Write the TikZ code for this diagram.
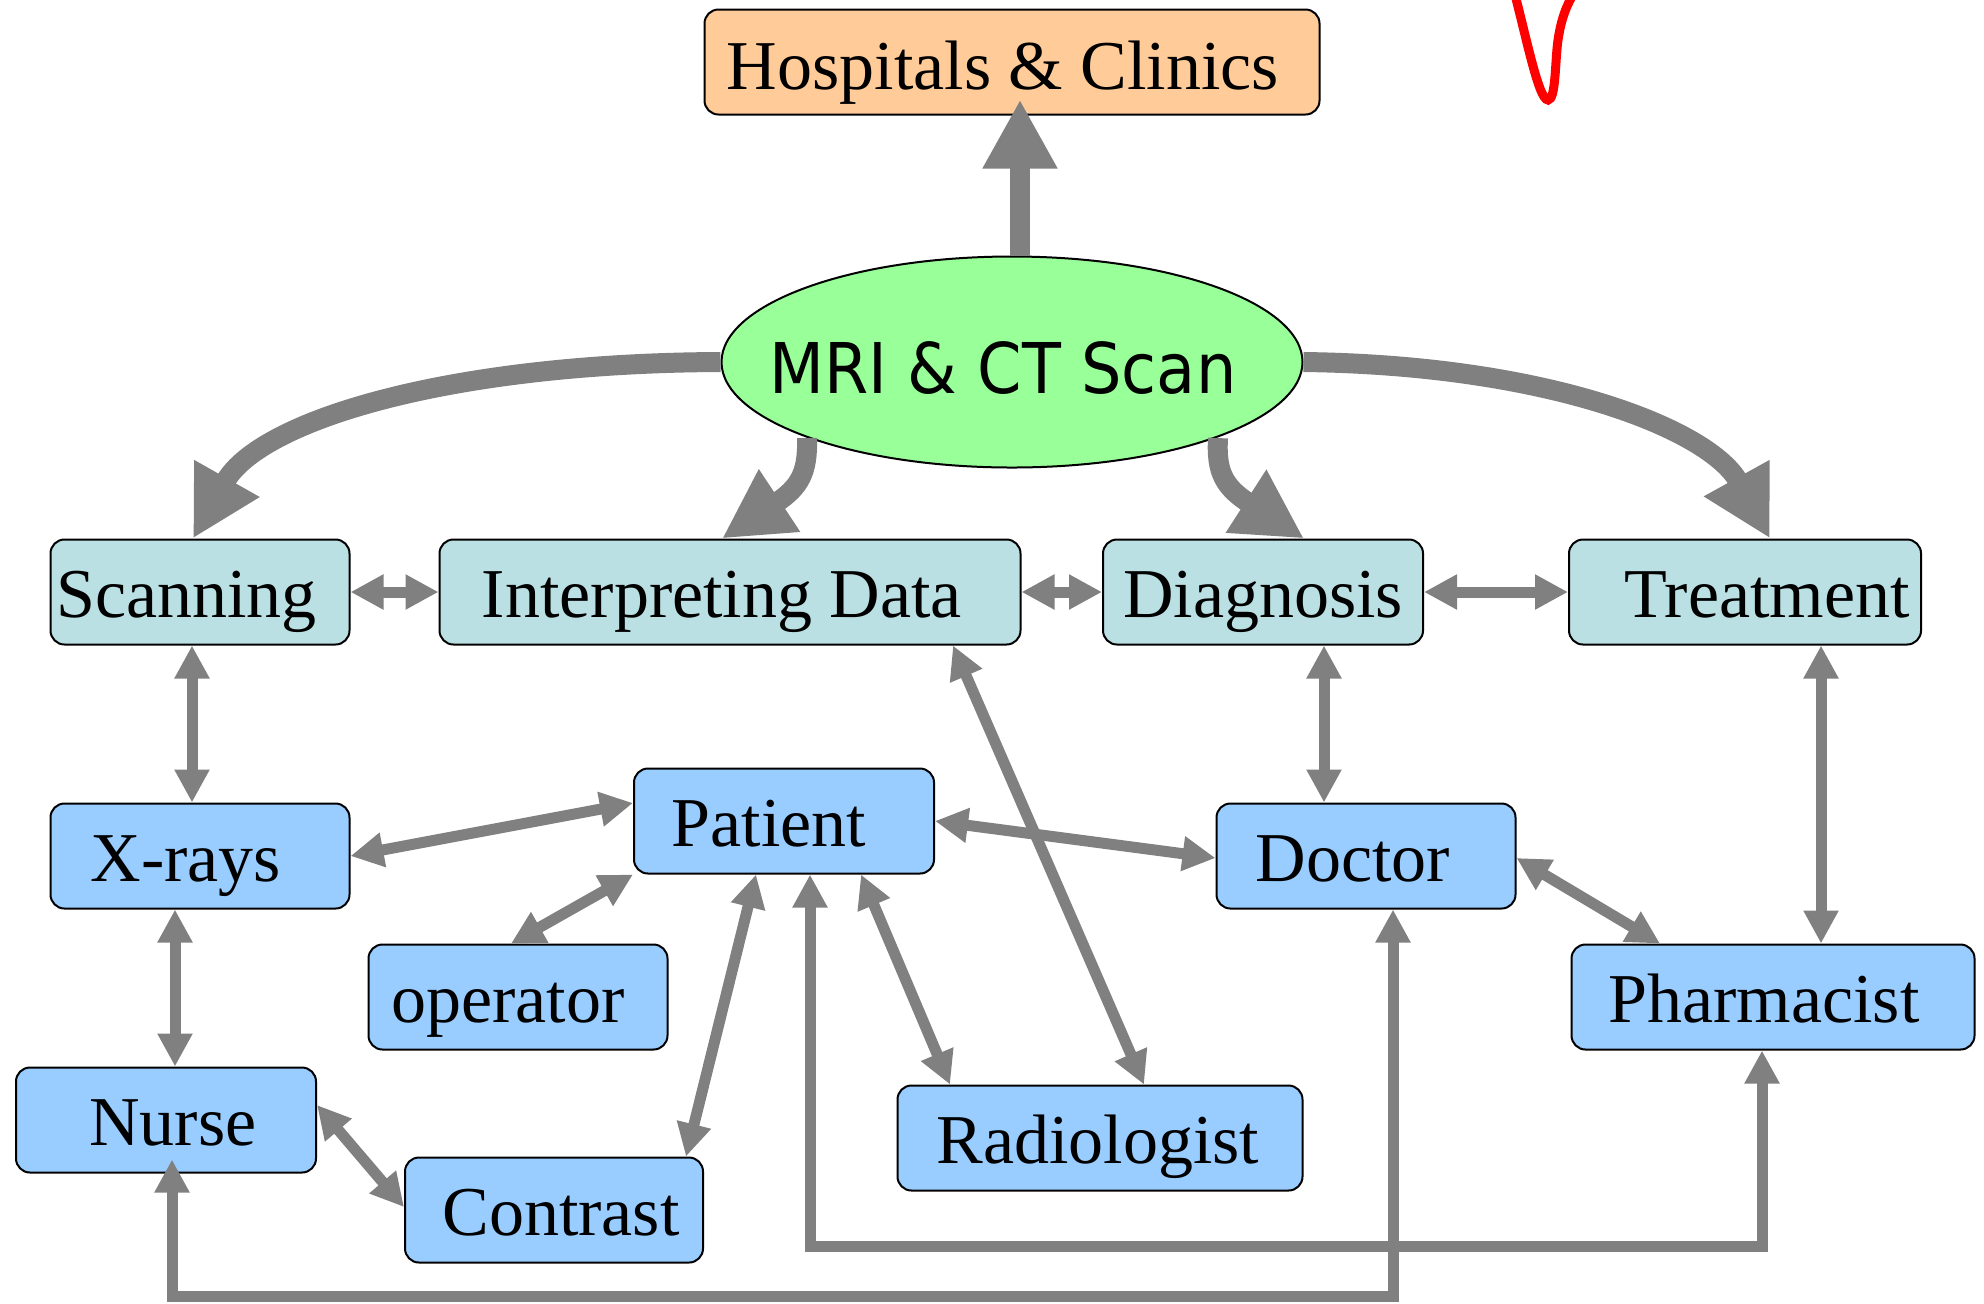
\documentclass[tikz,border=0pt]{standalone}
\usepackage{fontspec}
\setmainfont{Liberation Serif}
\newfontfamily\mrifont[FakeStretch=0.91]{DejaVu Sans}
\usetikzlibrary{shapes.geometric,arrows.meta,calc}
\definecolor{tealfill}{RGB}{187,224,227}
\definecolor{bluefill}{RGB}{153,204,255}
\definecolor{orangefill}{RGB}{255,204,153}
\definecolor{greenfill}{RGB}{153,255,153}
\definecolor{arrowgray}{RGB}{128,128,128}
\newcommand\sh[2]{\kern#1\relax#2\kern-#1\relax}
\tikzset{
  box/.style={draw=black, line width=1pt, rounded corners=7pt, inner sep=0pt,
    minimum height=52.5pt, text height=30pt, text depth=5pt,
    font=\fontsize{35pt}{40pt}\selectfont},
  tealbox/.style={box, fill=tealfill},
  bluebox/.style={box, fill=bluefill},
  bigarrow/.style={draw=arrowgray, line width=10pt, -{Triangle[length=34.5pt,width=35pt]}},
  duo/.style={draw=arrowgray, line width=5.5pt,
    {Triangle[length=16.5pt,width=16.5pt]}-{Triangle[length=16.5pt,width=16.5pt]}},
}
\begin{document}
\begin{tikzpicture}[x=0.5pt,y=-0.5pt]
\useasboundingbox (0,0) rectangle (1984,1303);
\clip (0,0) rectangle (1984,1303);
\fill[white] (0,0) rectangle (1984,1303);

% nodes
\node[box, fill=orangefill, minimum width=307.5pt, text height=31pt, text depth=4pt] (hosp) at (1012,62) {\sh{-4.5pt}{Hospitals \& Clinics}};
\node[ellipse, draw=black, line width=1pt, fill=greenfill, minimum width=290.5pt, minimum height=105.5pt,
  inner sep=0pt, text height=34pt, text depth=3pt, font=\mrifont\fontsize{35pt}{40pt}\selectfont] (ell) at (1012,362) {\makebox[0pt][c]{\sh{-4.5pt}{MRI \& CT Scan}}};

\node[tealbox, minimum width=149.5pt] (scan) at (200,592) {\sh{-6.75pt}{Scanning}};
\node[tealbox, minimum width=290.5pt] (interp) at (730,592) {\sh{-4pt}{Interpreting Data}};
\node[tealbox, minimum width=160pt] (diag) at (1263,592) {Diagnosis};
\node[tealbox, minimum width=176pt] (treat) at (1745,592) {\sh{11pt}{Treatment}};

\node[bluebox, minimum width=149.5pt] (xrays) at (200,856) {\sh{-7pt}{X-rays}};
\node[bluebox, minimum width=150pt] (patient) at (784,821) {\sh{-7.5pt}{Patient}};
\node[bluebox, minimum width=149.5pt] (doctor) at (1366,856) {\sh{-6.5pt}{Doctor}};
\node[bluebox, minimum width=201.5pt] (pharm) at (1773,997) {\sh{-4.5pt}{Pharmacist}};
\node[bluebox, minimum width=149.5pt] (operator) at (518,997) {\sh{-5pt}{operator}};
\node[bluebox, minimum width=150pt] (nurse) at (166,1120) {\sh{3.5pt}{Nurse}};
\node[bluebox, minimum width=149pt] (contrast) at (554,1210) {\sh{3.5pt}{Contrast}};
\node[bluebox, minimum width=202.5pt] (radio) at (1100,1138) {\sh{-1pt}{Radiologist}};

% thick arrows from MRI & CT Scan
\draw[bigarrow] ($(ell.north)+(8,0)$) -- ($(hosp.south)+(8,-16)$);
\draw[bigarrow] (ell.west) .. controls (450,363) and (260,420) .. ($(scan.north)+(-7,0)$);
\draw[bigarrow] ($(ell.center)+(-205,76)$) .. controls (808,472) and (800,487) .. ($(interp.north)+(-8,0)$);
\draw[bigarrow] ($(ell.center)+(206,76)$) .. controls (1216,472) and (1224,487) .. ($(diag.north)+(41,0)$);
\draw[bigarrow] (ell.east) .. controls (1550,365) and (1710,430) .. ($(treat.north)+(25,0)$);

% double arrows
\draw[duo] (scan.east) -- (interp.west);
\draw[duo] (interp.east) -- (diag.west);
\draw[duo] (diag.east) -- (treat.west);
\draw[duo] ($(scan.south)+(-8,0)$) -- ($(xrays.north)+(-8,0)$);
\draw[duo] (xrays.east) -- ($(patient.west)+(0,-18)$);
\draw[duo] ($(operator.north)+(-7,0)$) -- (patient.south west);
\draw[duo] (patient.east) -- ($(doctor.west)+(0,2)$);
\draw[duo] ($(patient.south)+(-28,0)$) -- ($(contrast.north)+(132,0)$);
\draw[duo] ($(patient.south)+(77,0)$) -- ($(radio.north)+(-150,0)$);
\draw[duo] ($(interp.south)+(223,0)$) -- ($(radio.north)+(44,0)$);
\draw[duo] ($(diag.south)+(61,0)$) -- ($(doctor.north)+(-42,0)$);
\draw[duo] ($(treat.south)+(76,0)$) -- ($(pharm.north)+(48,0)$);
\draw[duo] ($(doctor.east)+(0,2)$) -- ($(pharm.north)+(-113,0)$);
\draw[duo] ($(xrays.south)+(-25,0)$) -- ($(nurse.north)+(9,0)$);
\draw[duo] ($(nurse.east)+(0,-15)$) -- ($(contrast.west)+(0,-3)$);
\draw[duo] ($(patient.south)+(26,0)$) -- ++(0,372) -| ($(pharm.south)+(-11,0)$);
\draw[duo] ($(nurse.south)+(6,-14)$) -- ++(0,137) -| ($(doctor.south)+(27,0)$);

% red stroke at the top
\draw[red, line width=4.5pt, line cap=round] (1511,-20) .. controls (1525,30) and (1538,100) .. (1548,100)
  .. controls (1556,100) and (1555,60) .. (1558,40) .. controls (1561,20) and (1566,5) .. (1576,-10);
\end{tikzpicture}
\end{document}
